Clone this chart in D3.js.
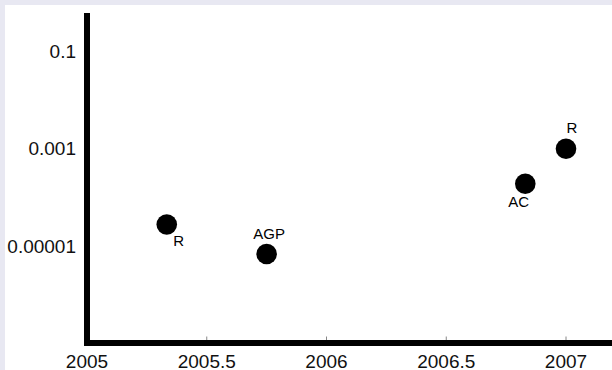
<!DOCTYPE html>
<html><head><meta charset="utf-8">
<script src="https://cdn.jsdelivr.net/npm/d3@7"></script>
<style>
html,body{margin:0;padding:0;background:#e8e8f2;}
svg{display:block;}
</style></head>
<body>
<svg id="chart" width="612" height="370"></svg>
<script>
// Data
const years = [2005.333, 2005.75, 2006.83, 2007.0];
const values = [2.75e-5, 6.8e-6, 1.9e-4, 1.0e-3];
const labels = ["R", "AGP", "AC", "R"];
const xTicks = [2005, 2005.5, 2006, 2006.5, 2007];
const xTickLabels = ["2005", "2005.5", "2006", "2006.5", "2007"];
const yTicks = [0.1, 0.001, 0.00001];
const yTickLabels = ["0.1", "0.001", "0.00001"];
// label placement (dx, dy from point centre to text baseline centre)
const labelOffsets = [[12, 21], [2.5, -15], [-6.5, 23.5], [6, -15.5]];

const svg = d3.select("#chart");
svg.append("rect").attr("x", 5).attr("y", 5).attr("width", 607).attr("height", 365).attr("fill", "#fff");

const x = d3.scaleLinear().domain([2005, 2007.2]).range([87, 566 + 0.2 * 239.5]);
const y = d3.scaleLog().domain([1e-7, Math.pow(10, -0.205)]).range([343, 13]);

// x tick marks (small gray)
svg.append("g").selectAll("line").data(xTicks).join("line")
  .attr("x1", d => x(d)).attr("x2", d => x(d))
  .attr("y1", 336.5).attr("y2", 340)
  .attr("stroke", "#888").attr("stroke-width", 1);

// axes lines
svg.append("line").attr("x1", 87).attr("x2", 87).attr("y1", 13).attr("y2", 346)
  .attr("stroke", "#000").attr("stroke-width", 6);
svg.append("line").attr("x1", 84).attr("x2", 612).attr("y1", 343).attr("y2", 343)
  .attr("stroke", "#000").attr("stroke-width", 6);

// tick labels
svg.append("g").selectAll("text").data(xTicks).join("text")
  .attr("x", d => x(d)).attr("y", 367.5)
  .attr("text-anchor", "middle")
  .attr("font-family", "Liberation Sans, Arial, sans-serif")
  .attr("font-size", 19).attr("fill", "#111")
  .text((d, i) => xTickLabels[i]);

svg.append("g").selectAll("text").data(yTicks).join("text")
  .attr("x", 76).attr("y", d => y(d))
  .attr("dy", "0.35em")
  .attr("text-anchor", "end")
  .attr("font-family", "Liberation Sans, Arial, sans-serif")
  .attr("font-size", 19).attr("fill", "#111")
  .text((d, i) => yTickLabels[i]);

// points
const pts = years.map((yr, i) => ({yr, v: values[i], label: labels[i], off: labelOffsets[i]}));
svg.append("g").selectAll("circle").data(pts).join("circle")
  .attr("cx", d => x(d.yr)).attr("cy", d => y(d.v))
  .attr("r", 10.3).attr("fill", "#000");

svg.append("g").selectAll("text").data(pts).join("text")
  .attr("x", d => x(d.yr) + d.off[0]).attr("y", d => y(d.v) + d.off[1])
  .attr("text-anchor", "middle")
  .attr("font-family", "Liberation Sans, Arial, sans-serif")
  .attr("font-size", 15).attr("fill", "#000")
  .text(d => d.label);
</script>
</body></html>
